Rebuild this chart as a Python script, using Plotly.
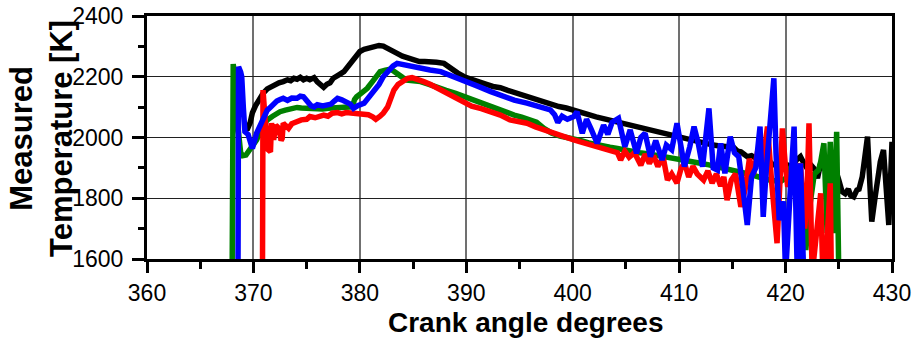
import plotly.graph_objects as go

# ---- data ----
black_x = [369.2, 369.4, 369.7, 369.9, 370.2, 370.5, 370.9, 371.3, 371.6, 372.0, 372.4, 372.8, 373.2, 373.5,
           373.8, 374.1, 374.4, 374.7, 375.0, 375.3, 375.7, 376.0, 376.3, 376.6, 376.9, 377.2, 377.5, 377.8,
           378.1, 378.5, 378.9, 379.2, 379.4, 379.7, 380.0, 380.4, 380.8, 381.3, 381.8, 382.2, 382.6, 383.0,
           383.5, 384.0, 384.5, 385.1, 385.6, 386.1, 386.6, 387.2, 387.9, 388.5, 389.2, 389.8, 390.5, 391.2,
           391.9, 392.5, 393.2, 393.9, 394.6, 395.3, 395.9, 396.6, 397.3, 398.0, 398.7, 399.4, 400.1, 400.8,
           401.5, 402.2, 402.9, 403.6, 404.2, 404.9, 405.6, 406.3, 407.0, 407.7, 408.3, 408.9, 409.6, 410.3,
           411.0, 411.6, 412.0, 412.6, 413.2, 413.8, 414.4, 415.1, 415.5, 415.8, 416.1, 416.4, 416.8, 417.2,
           417.6, 418.0, 418.4, 418.8, 419.2, 419.6, 420.2, 420.6, 421.0, 421.4, 421.8, 422.2, 422.5, 422.8,
           423.0, 423.3, 423.6, 423.9, 424.2, 424.6, 425.0, 425.3, 425.6, 425.9, 426.1, 426.4, 426.7, 426.9,
           427.2, 427.5, 427.7, 427.9, 428.1, 428.4, 428.7, 428.9, 429.2, 429.4, 429.7, 429.85, 430.0]
black_y = [2035, 2025, 2050, 2081, 2105, 2123, 2145, 2160, 2166, 2172, 2180, 2184, 2190, 2187,
           2195, 2192, 2198, 2190, 2195, 2190, 2197, 2183, 2175, 2165, 2175, 2180, 2195, 2200,
           2208, 2217, 2235, 2250, 2261, 2275, 2283, 2290, 2295, 2301, 2303, 2301, 2292, 2284,
           2277, 2268, 2262, 2253, 2250, 2250, 2250, 2248, 2244, 2228, 2212, 2200, 2193, 2183,
           2175, 2168, 2164, 2155, 2147, 2140, 2132, 2124, 2115, 2108, 2102, 2097, 2091, 2083,
           2075, 2068, 2062, 2057, 2052, 2046, 2040, 2034, 2028, 2020, 2013, 2008, 2002, 1996,
           1990, 1986, 1981, 1978, 1975, 1972, 1970, 1968, 1955, 1953, 1945, 1937, 1940, 1932,
           1937, 1920, 1925, 1910, 1915, 1905, 1909, 1900, 1925, 1937, 1910, 1890, 1905, 1893,
           1866, 1915, 1900, 1920, 1926, 1905, 1860, 1822, 1815, 1830, 1810, 1805, 1827, 1830,
           1870, 1940, 2003, 1860, 1723, 1800, 1880, 1920, 1959, 1850, 1712, 1850, 1986]

green_x = [368.0, 368.1, 368.25, 368.5, 368.8, 369.0, 369.3, 369.6, 370.0, 370.3, 370.7, 371.0, 371.3,
           371.8, 372.2, 372.5, 373.0, 373.5, 374.1, 374.5, 375.0, 375.5, 376.0, 376.5, 377.0, 377.5,
           378.0, 378.5, 379.0, 379.3, 379.5, 379.7, 380.2, 380.7, 381.2, 381.6, 381.9, 382.4, 382.9,
           383.2, 383.5, 384.0, 384.4, 385.0, 385.7, 386.5, 387.3, 388.1, 389.0, 389.8, 390.6, 391.5,
           392.3, 393.2, 394.0, 394.5, 395.2, 395.9, 396.6, 397.3, 398.0, 398.8, 399.5, 400.1, 400.8,
           401.5, 402.2, 402.9, 403.5, 404.2, 404.9, 405.6, 406.3, 407.0, 407.7, 408.3, 408.9, 409.6,
           410.3, 411.0, 411.6, 412.0, 412.8, 413.5, 414.2, 415.0, 415.5, 416.5, 417.5, 418.5, 419.5,
           420.2, 420.5, 421.0, 421.5, 421.9, 422.3, 422.7, 423.1, 423.3, 423.6, 423.9, 424.2, 424.5,
           424.8, 425.0]
green_y = [1550, 2242, 2200, 2050, 1950, 1940, 1942, 1955, 1975, 1992, 2025, 2045, 2058,
           2070, 2080, 2085, 2090, 2094, 2099, 2097, 2096, 2093, 2091, 2094, 2096, 2097,
           2098, 2099, 2100, 2101, 2125, 2134, 2148, 2162, 2185, 2205, 2217, 2222, 2225,
           2218, 2209, 2198, 2189, 2186, 2184, 2175, 2167, 2155, 2145, 2134, 2124, 2112,
           2101, 2087, 2078, 2074, 2067, 2060, 2050, 2030, 2015, 2005, 2000, 1997, 1990,
           1982, 1976, 1971, 1968, 1964, 1958, 1953, 1950, 1947, 1943, 1940, 1937, 1933,
           1928, 1922, 1918, 1915, 1910, 1905, 1900, 1895, 1890, 1880, 1870, 1860, 1855,
           1870, 1904, 1850, 1750, 1630, 1780, 1880, 1893, 1920, 1981, 1686, 1986, 1685,
           2019, 1550]

red_x = [370.85, 370.9, 371.1, 371.4, 371.6, 371.7, 371.9, 372.1, 372.4, 372.6, 372.7, 372.8, 373.0,
         373.3, 373.6, 374.1, 374.5, 375.0, 375.3, 375.8, 376.2, 376.6, 377.0, 377.4, 377.9, 378.3,
         378.7, 379.1, 379.5, 380.0, 380.4, 380.8, 381.2, 381.5, 381.9, 382.2, 382.6, 382.9, 383.2,
         383.6, 384.1, 384.5, 384.9, 385.4, 386.0, 386.6, 387.3, 387.9, 388.5, 389.2, 389.8, 390.5,
         391.4, 392.3, 393.2, 394.1, 394.9, 395.7, 396.5, 397.3, 398.0, 398.8, 399.5, 400.1, 400.8,
         401.5, 402.2, 402.9, 403.5, 404.2, 404.5, 404.9, 405.3, 405.8, 406.4, 406.8, 407.2, 407.6,
         408.0, 408.5, 408.9, 409.3, 409.8, 410.2, 410.5, 410.9, 411.3, 411.7, 412.3, 412.7, 413.1,
         413.5, 413.9, 414.2, 414.5, 414.9, 415.3, 415.8, 416.2, 416.6, 417.0, 417.4, 417.8, 418.3,
         418.7, 419.2, 419.4, 419.7, 420.0, 420.2, 420.6, 421.0, 421.4, 421.8, 422.0, 422.2, 422.5,
         422.9, 423.3, 423.5, 423.8, 424.2, 424.3]
red_y = [1550, 2156, 2060, 1959, 1953, 2047, 1992, 2040, 2030, 1990, 1997, 2047, 2040,
         2030, 2045, 2052, 2058, 2060, 2069, 2065, 2072, 2074, 2070, 2080, 2082, 2078,
         2082, 2080, 2078, 2077, 2074, 2075, 2068, 2060, 2070, 2080, 2100, 2130, 2156,
         2175, 2189, 2195, 2197, 2192, 2184, 2175, 2162, 2151, 2140, 2125, 2113, 2103,
         2095, 2085, 2074, 2058, 2052, 2047, 2035, 2025, 2015, 2005, 1998, 1992, 1985,
         1978, 1970, 1962, 1955, 1950, 1926, 1955, 1935, 1950, 1909, 1945, 1915, 1940,
         1905, 1935, 1860, 1880, 1850, 1900, 1916, 1870, 1905, 1880, 1860, 1890, 1850,
         1880, 1840, 1870, 1794, 1860, 1880, 1772, 1830, 1930, 1880, 1960, 1900, 2036,
         1850, 1652, 1800, 2030, 1900, 1838, 1870, 1830, 1915, 1700, 1800, 2047, 1550,
         1700, 1816, 1550, 1600, 1849, 1550]

blue_x = [368.55, 368.6, 368.8, 368.9, 369.05, 369.2, 369.5, 369.9, 370.3, 370.6, 370.96, 371.3, 371.6,
          371.9, 372.2, 372.5, 372.8, 373.2, 373.6, 374.1, 374.4, 374.7, 375.0, 375.4, 375.7, 376.0,
          376.5, 376.9, 377.3, 377.6, 377.9, 378.3, 378.8, 379.1, 379.4, 379.8, 380.4, 380.8, 381.3,
          381.8, 382.2, 382.7, 383.1, 383.5, 384.1, 384.8, 385.7, 386.6, 387.6, 388.7, 389.8, 391.0,
          392.3, 393.2, 394.5, 395.7, 396.8, 397.9, 398.3, 398.6, 399.0, 399.5, 400.1, 400.4, 400.9,
          401.3, 401.7, 402.3, 402.9, 403.3, 403.7, 404.3, 404.9, 405.4, 406.0, 406.4, 406.8, 407.3,
          407.8, 408.4, 408.8, 409.3, 409.8, 410.5, 411.0, 411.4, 411.8, 412.2, 412.8, 413.2, 413.6,
          413.9, 414.3, 414.8, 415.2, 415.6, 416.0, 416.4, 416.8, 417.2, 417.6, 417.9, 418.2, 418.5,
          418.9, 419.1, 419.4, 419.8, 420.0, 420.4, 420.8, 421.1, 421.4, 421.7]
blue_y = [1550, 2233, 2215, 2200, 2100, 2019, 2010, 1964, 2014, 2040, 2069, 2090, 2100,
          2113, 2120, 2125, 2129, 2122, 2130, 2129, 2136, 2134, 2120, 2105, 2101, 2108,
          2104, 2107, 2110, 2120, 2129, 2124, 2118, 2110, 2096, 2105, 2113, 2130, 2151,
          2175, 2200, 2222, 2235, 2244, 2239, 2233, 2228, 2222, 2217, 2203, 2189, 2170,
          2151, 2138, 2123, 2113, 2100, 2091, 2075, 2050, 2070, 2060, 2069, 2085, 2014,
          2060, 2030, 1981, 2041, 2010, 2050, 2063, 1970, 2025, 1948, 2000, 2014, 1937,
          1990, 1926, 1975, 1960, 2047, 1904, 1970, 2036, 1980, 1904, 2096, 1900, 1893,
          1981, 1882, 2003, 1950, 1937, 1830, 1712, 1870, 1900, 2036, 1739, 1900, 2025,
          2195, 1950, 1728, 1790, 1550, 1800, 2036, 1550, 1915, 1550]

x_ticks = [360, 370, 380, 390, 400, 410, 420, 430]
y_ticks = [1600, 1800, 2000, 2200, 2400]
x_title = "Crank angle degrees"
y_title = "Measured<br>Temperature [K]"

FONT = "Liberation Sans, Arial, sans-serif"

fig = go.Figure()
for xs, ys, col in [(black_x, black_y, "#000000"), (green_x, green_y, "#008000"),
                    (red_x, red_y, "#ff0000"), (blue_x, blue_y, "#0000ff")]:
    fig.add_trace(go.Scatter(x=xs, y=ys, mode="lines",
                             line=dict(color=col, width=5.5), showlegend=False,
                             hoverinfo="skip"))

x_step = x_ticks[1] - x_ticks[0]
y_step = y_ticks[1] - y_ticks[0]

fig.update_layout(
    width=913, height=340,
    margin=dict(l=147, r=21, t=16, b=81),
    paper_bgcolor="white", plot_bgcolor="white",
    font=dict(family=FONT, color="black"),
)
fig.update_xaxes(
    range=[x_ticks[0], x_ticks[-1]], tickmode="linear", tick0=x_ticks[0], dtick=x_step,
    automargin=False,
    showline=True, linecolor="black", linewidth=3, mirror=True,
    ticks="outside", ticklen=11, tickwidth=3, tickcolor="black",
    tickfont=dict(size=23, family=FONT),
    showgrid=True, gridcolor="#707070", gridwidth=1.5, zeroline=False,
    minor=dict(dtick=x_step / 2, tick0=x_ticks[0], ticks="outside", ticklen=7,
               tickwidth=3, tickcolor="black", showgrid=False),
)
fig.update_yaxes(
    range=[y_ticks[0], y_ticks[-1]], tickmode="linear", tick0=y_ticks[0], dtick=y_step,
    automargin=False,
    showline=True, linecolor="black", linewidth=3, mirror=True,
    ticks="outside", ticklen=12, tickwidth=3, tickcolor="black",
    tickfont=dict(size=23, family=FONT), ticklabelstandoff=4,
    showgrid=True, gridcolor="#202020", gridwidth=1, zeroline=False,
    minor=dict(dtick=y_step / 2, tick0=y_ticks[0], ticks="outside", ticklen=6,
               tickwidth=3, tickcolor="black", showgrid=False),
)

fig.add_annotation(text="<b>" + x_title + "</b>", xref="paper", yref="paper",
                   x=(525 - 147) / 745, y=(259 - 322) / 243, xanchor="center", yanchor="middle",
                   showarrow=False, font=dict(size=28, family=FONT, color="black"))
fig.add_annotation(text="<b>" + y_title + "</b>", xref="paper", yref="paper",
                   x=(41 - 147) / 745, y=(259 - 139) / 243, xanchor="center", yanchor="middle",
                   textangle=-90, showarrow=False,
                   font=dict(size=31, family=FONT, color="black"))

fig.write_html("out.html")
